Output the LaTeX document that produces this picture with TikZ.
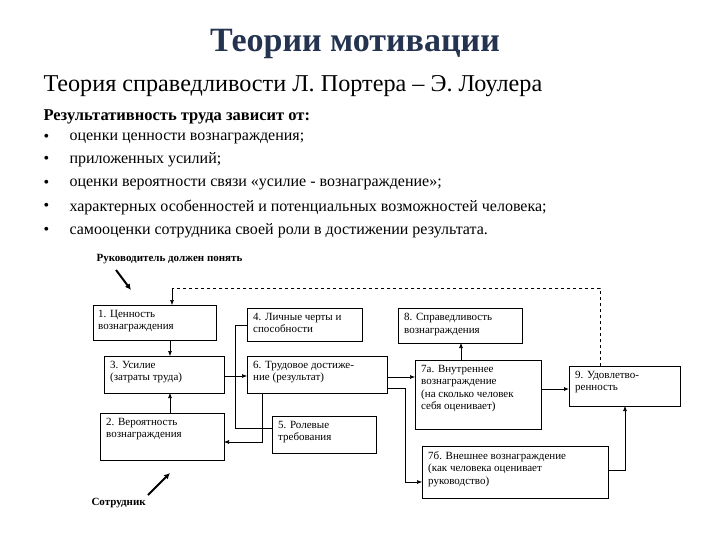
\documentclass[tikz,border=0pt]{standalone}
\usepackage{fontspec}
\setmainfont{Liberation Serif}
\usetikzlibrary{arrows.meta}
\definecolor{titlec}{HTML}{243450}
\begin{document}
\begin{tikzpicture}[x=1pt,y=-1pt,
 bx/.style={draw,semithick,rectangle},
 bt/.style={font=\fontsize{11}{12.5}\selectfont,anchor=north west,align=left,inner sep=0},
 ar/.style={-{Latex[length=5pt,width=4pt]}},
 conn/.style={semithick}]
\useasboundingbox (0,0) rectangle (720,540);
\node[font=\fontsize{34}{38}\bfseries\selectfont,text=titlec] (title) at (355,44) {Теории мотивации};
\node[font=\fontsize{24.2}{27}\selectfont,anchor=west] (sub) at (40,86) {Теория справедливости Л. Портера – Э. Лоулера};
\node[font=\fontsize{16.5}{18}\bfseries\selectfont,anchor=west] (res) at (40,117) {Результативность труда зависит от:};
\foreach \y/\t [count=\i] in {138/оценки ценности вознаграждения;,160/приложенных усилий;,184/оценки вероятности связи «усилие - вознаграждение»;,207/характерных особенностей и потенциальных возможностей человека;,231/самооценки сотрудника своей роли в достижении результата.}{
 \node[font=\fontsize{16}{18}\selectfont,anchor=west] (b\i) at (40,\y) {•};
 \node[font=\fontsize{16}{18}\selectfont,anchor=west] (l\i) at (66,\y) {\t};}
\draw[bx] (93,305) rectangle (216,340); \node[bt] (n1) at (98,310) {1. Ценность\\вознаграждения};
\draw[bx] (104,356) rectangle (224,393); \node[bt] (n3) at (110,361) {3. Усилие\\(затраты труда)};
\draw[bx] (100,413) rectangle (224,460); \node[bt] (n2) at (106,418) {2. Вероятность\\вознаграждения};
\draw[bx] (247,308) rectangle (362,341); \node[bt] (n4) at (253,313) {4. Личные черты и\\способности};
\draw[bx] (247,356) rectangle (387,393); \node[bt] (n6) at (253,361) {6. Трудовое достиже-\\ние (результат)};
\draw[bx] (272,416) rectangle (376,453); \node[bt] (n5) at (278,421) {5. Ролевые\\требования};
\draw[bx] (398,308) rectangle (522,343); \node[bt] (n8) at (404,313) {8. Справедливость\\вознаграждения};
\draw[bx] (415,360) rectangle (541,429); \node[bt] (n7a) at (421,365) {7а. Внутреннее\\вознаграждение\\(на сколько человек\\себя оценивает)};
\draw[bx] (422,446) rectangle (608,498); \node[bt] (n7b) at (428,451) {7б. Внешнее вознаграждение\\(как человека оценивает\\руководство)};
\draw[bx] (569,366) rectangle (680,406); \node[bt] (n9) at (575,371) {9. Удовлетво-\\ренность};
% connectors
\draw[conn,dashed] (600,366) -- (600,288) -- (172,288);
\draw[conn,ar] (172,288) -- (172,305);
\draw[conn,ar] (170,340) -- (170,356);
\draw[conn,ar] (170,413) -- (170,393);
\draw[conn] (247,325) -- (235,325) -- (235,428) -- (272,428);
\draw[conn,ar] (224,376) -- (247,376);
\draw[conn,ar] (262,393) -- (262,442) -- (224,442);
\draw[conn,ar] (387,377) -- (415,377);
\draw[conn,ar] (387,388) -- (405,388) -- (405,482) -- (422,482);
\draw[conn,ar] (461,360) -- (461,343);
\draw[thick,ar] (541,389) -- (569,389);
\draw[conn,ar] (608,470) -- (625,470) -- (625,406);
\node[font=\fontsize{11}{12}\bfseries\selectfont,anchor=west] (ruk) at (93,259) {Руководитель должен понять};
\node[font=\fontsize{11}{12}\bfseries\selectfont,anchor=west] (sotr) at (88,503) {Сотрудник};
\draw[line width=2pt,-{Latex[length=6pt,width=6pt]}] (116,270) -- (131,290);
\draw[line width=2pt,-{Latex[length=6pt,width=6pt]}] (148,495) -- (170,473);
\end{tikzpicture}
\end{document}
